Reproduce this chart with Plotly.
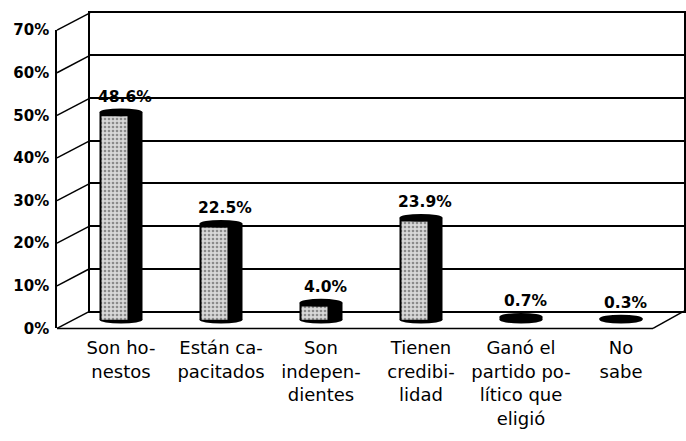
import plotly.graph_objects as go

# ---- data ----
categories = ["Son ho-<br>nestos", "Están ca-<br>pacitados", "Son<br>indepen-<br>dientes",
              "Tienen<br>credibi-<br>lidad", "Ganó el<br>partido po-<br>lítico que<br>eligió", "No<br>sabe"]
values = [48.6, 22.5, 4.0, 23.9, 0.7, 0.3]
value_labels = ["48.6%", "22.5%", "4.0%", "23.9%", "0.7%", "0.3%"]
y_ticks = [0, 10, 20, 30, 40, 50, 60, 70]
y_tick_labels = ["0%", "10%", "20%", "30%", "40%", "50%", "60%", "70%"]

# ---- layout geometry (pixels) ----
W, H = 686, 441
def px(x): return x / W
def py(y): return 1 - y / H

BACK_L, BACK_R = 90, 684          # back wall x
BACK_Y0, BACK_Y70 = 315, 4         # back wall 0% / 70%
FRONT_X = 57                       # front-left edge
FRONT_Y0, FRONT_Y70 = 333, 22
FLOOR_FRONT_R = 653
BAR_ZERO = 324                     # bar baseline pixel
PPU = 4.45                         # pixels per percent for the bars
CAP = 4.0 / PPU                    # ellipse half-height in % units
BAR_W = 0.43
LABEL_TOP = 332

def back_y(v): return BACK_Y0 - v * (BACK_Y0 - BACK_Y70) / 70.0
def front_y(v): return FRONT_Y0 - v * (FRONT_Y0 - FRONT_Y70) / 70.0

x_idx = list(range(len(categories)))
grey_vals = [max(v - CAP, 0) for v in values]

fig = go.Figure()
# invisible anchors so the frame subplots are drawn
fig.add_trace(go.Scatter(x=[0.5], y=[0], xaxis="x", yaxis="y", mode="markers",
                         marker=dict(opacity=0), hoverinfo="skip", showlegend=False))
fig.add_trace(go.Scatter(x=[0.5], y=[0], xaxis="x3", yaxis="y3", mode="markers",
                         marker=dict(opacity=0), hoverinfo="skip", showlegend=False))
# black body of cylinder
fig.add_trace(go.Bar(x=x_idx, y=values, xaxis="x2", yaxis="y2", width=BAR_W,
                     offset=-BAR_W / 2, marker=dict(color="#000000", line=dict(width=0)),
                     hoverinfo="skip", showlegend=False))
# stippled light side
fig.add_trace(go.Bar(x=x_idx, y=grey_vals, xaxis="x2", yaxis="y2", width=0.26,
                     offset=-0.195,
                     marker=dict(color="#d8d8d8", line=dict(width=0),
                                 pattern=dict(shape=".", fgcolor="#3c3c3c", size=4,
                                              solidity=0.35, fillmode="overlay")),
                     hoverinfo="skip", showlegend=False))

shapes = []
# left wall diagonals
for v in y_ticks:
    shapes.append(dict(type="line", xref="paper", yref="paper",
                       x0=px(FRONT_X), y0=py(front_y(v)), x1=px(BACK_L), y1=py(back_y(v)),
                       line=dict(color="black", width=1.5), layer="below"))
# floor front and right edges
shapes.append(dict(type="line", xref="paper", yref="paper",
                   x0=px(FRONT_X), y0=py(front_y(0)), x1=px(FLOOR_FRONT_R), y1=py(front_y(0)),
                   line=dict(color="black", width=1.5), layer="below"))
shapes.append(dict(type="line", xref="paper", yref="paper",
                   x0=px(FLOOR_FRONT_R), y0=py(front_y(0)), x1=px(BACK_R), y1=py(back_y(0)),
                   line=dict(color="black", width=1.5), layer="below"))
# cylinder caps and bottoms from data
for i, v in zip(x_idx, values):
    shapes.append(dict(type="circle", xref="x2", yref="y2", x0=i - BAR_W / 2, x1=i + BAR_W / 2,
                       y0=-CAP, y1=CAP, fillcolor="black", line=dict(width=0), layer="below"))
    shapes.append(dict(type="circle", xref="x2", yref="y2", x0=i - BAR_W / 2, x1=i + BAR_W / 2,
                       y0=v - CAP, y1=v + CAP, fillcolor="black", line=dict(width=0), layer="above"))

annotations = []
for i, v, t in zip(x_idx, values, value_labels):
    annotations.append(dict(x=i, y=v + CAP, xref="x2", yref="y2", text=t, showarrow=False,
                            yanchor="bottom", xshift=4, yshift=1,
                            font=dict(family="DejaVu Sans", size=15.5, color="black",
                                      weight="bold")))

fig.update_layout(
    width=W, height=H, margin=dict(l=0, r=0, t=0, b=0),
    paper_bgcolor="white", plot_bgcolor="rgba(0,0,0,0)",
    barmode="overlay", showlegend=False,
    font=dict(family="DejaVu Sans", color="black"),
    # back wall
    xaxis=dict(domain=[px(BACK_L), px(BACK_R)], range=[0, 1], showgrid=False, zeroline=False,
               showticklabels=False, showline=True, mirror=True, linecolor="black",
               linewidth=1.5, ticks="", fixedrange=True),
    yaxis=dict(domain=[py(BACK_Y0), py(BACK_Y70)], range=[0, 70], dtick=10, showgrid=True,
               gridcolor="black", gridwidth=1.5, zeroline=False, showticklabels=False,
               showline=True, mirror=True, linecolor="black", linewidth=1.5, ticks="",
               fixedrange=True),
    # bars
    xaxis2=dict(domain=[px(71), px(671)], range=[-0.5, 5.5], anchor="y2", tickmode="array",
                tickvals=x_idx, ticktext=categories, showgrid=False, zeroline=False,
                showline=False, ticks="",
                tickfont=dict(family="DejaVu Sans", size=18, color="black"),
                ticklabelstandoff=8, fixedrange=True),
    yaxis2=dict(domain=[py(LABEL_TOP), py(0)],
                range=[(BAR_ZERO - LABEL_TOP) / PPU, BAR_ZERO / PPU], anchor="x2",
                visible=False, fixedrange=True),
    # front-left axis with labels
    xaxis3=dict(domain=[px(FRONT_X), px(BACK_L)], range=[0, 1], anchor="y3", visible=False,
                fixedrange=True),
    yaxis3=dict(domain=[py(FRONT_Y0), py(FRONT_Y70)], range=[0, 70], anchor="x3",
                tickmode="array", tickvals=y_ticks, ticktext=y_tick_labels, showgrid=False,
                zeroline=False, showline=True, linecolor="black", linewidth=1.5, ticks="",
                tickfont=dict(family="DejaVu Sans", size=15, color="black", weight="bold"),
                ticklabelstandoff=3, fixedrange=True),
    shapes=shapes, annotations=annotations,
)

# pin the figure to the top-left corner of the page (no body margin offset)
pin = ("document.body.style.margin='0';document.body.style.overflow='hidden';"
       "var d=document.getElementById('{plot_id}');d.style.position='fixed';"
       "d.style.left='0px';d.style.top='0px';")
fig.write_html("out.html", post_script=pin, config={"displayModeBar": False})
